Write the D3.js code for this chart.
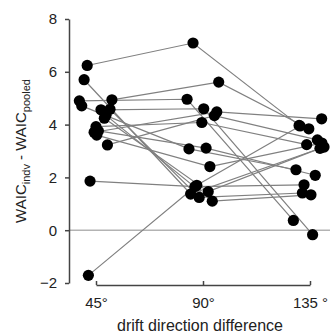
<!DOCTYPE html>
<html>
<head>
<meta charset="utf-8">
<script src="https://cdn.jsdelivr.net/npm/d3@7"></script>
<style>
  html, body { margin: 0; padding: 0; background: #fff; }
  svg { display: block; }
  text { font-family: "Liberation Sans", Arial, Helvetica, sans-serif; fill: #222; }
</style>
</head>
<body>
<svg id="chart" width="330" height="335"></svg>
<script>
// ---- data ----
const conditions = [45, 90, 135];
const tickLabels = ["45°", "90°", "135 °"];
const yTicks = [-2, 0, 2, 4, 6, 8];
// WAIC_indv - WAIC_pooled per subject at each condition
const v45  = [6.24, 5.70, 4.90, 4.94, 4.71, 4.56, 4.58, 4.24, 4.35, 3.92, 3.71, 3.76, 3.60, 3.23, 1.86, -1.71];
const v90  = [7.09, 1.37, 4.96, 5.61, 3.08, 4.60, 1.24, 1.46, 1.10, 4.08, 4.48, 3.11, 2.41, 4.34, 1.65, 1.70];
const v135 = [3.97, 3.15, 0.37, 3.84, 2.29, -0.17, 1.41, 3.10, 1.34, 3.24, 4.22, 2.08, 3.30, 3.42, 1.72, 3.95];
// horizontal jitter (degrees) per subject at each condition
const j45  = [-3.7, -5.0, -7.0, 6.7, -6.0, 2.1, 5.9, 3.5, 4.2, 0.0, -0.8, 1.0, 0.3, 4.8, -2.5, -3.2];
const j90  = [-4.2, -5.2, -6.7, 6.6, -5.9, 0.3, -1.6, 2.2, 3.9, -0.5, 5.8, 1.3, 2.9, 4.8, -3.4, -2.6];
const j135 = [-4.6, 5.9, -7.0, -0.5, -5.9, 1.1, -3.2, 4.2, 0.4, -1.4, 4.9, 2.2, 5.0, 3.1, -2.5, -4.2];

// ---- build ----
const subjects = v45.map((_, i) => [
  { c: 45,  j: j45[i],  v: v45[i] },
  { c: 90,  j: j90[i],  v: v90[i] },
  { c: 135, j: j135[i], v: v135[i] }
]);

const svg = d3.select("#chart");
const W = 330, H = 335;
const plot = { left: 70, top: 19, bottom: 283 };

const x = d3.scaleLinear().domain([45, 135]).range([96, 310]);
const y = d3.scaleLinear().domain([-2, 8]).range([plot.bottom, plot.top]);

// zero reference line
svg.append("line")
  .attr("x1", plot.left).attr("x2", W)
  .attr("y1", y(0)).attr("y2", y(0))
  .attr("stroke", "#b3b3b3").attr("stroke-width", 1.5);

// y axis
const yAxis = svg.append("g")
  .attr("transform", `translate(${plot.left - 1},0)`)
  .call(d3.axisLeft(y).tickValues(yTicks).tickSize(4).tickSizeOuter(0).tickPadding(8)
    .tickFormat(d3.format("d")));
yAxis.select(".domain").attr("stroke", "#444").attr("stroke-width", 1.5);
yAxis.selectAll(".tick line").attr("stroke", "#444").attr("stroke-width", 1.5);
yAxis.selectAll("text").style("font-size", "15px").attr("fill", "#222");

// x axis
const xAxis = svg.append("g")
  .attr("transform", `translate(0,${plot.bottom + 2})`)
  .call(d3.axisBottom(x).tickValues(conditions).tickSize(-4).tickSizeOuter(0).tickPadding(12)
    .tickFormat((d, i) => tickLabels[i]));
xAxis.select(".domain").attr("stroke", "#444").attr("stroke-width", 1.5);
xAxis.selectAll(".tick line").attr("stroke", "#444").attr("stroke-width", 1.5);
xAxis.selectAll("text").style("font-size", "15px").attr("fill", "#222");

// connecting lines
const line = d3.line().x(d => x(d.c + d.j)).y(d => y(d.v));
svg.append("g").selectAll("path")
  .data(subjects).join("path")
  .attr("d", line)
  .attr("fill", "none")
  .attr("stroke", "#808080")
  .attr("stroke-width", 1.2);

// dots
svg.append("g").selectAll("circle")
  .data(subjects.flat()).join("circle")
  .attr("cx", d => x(d.c + d.j))
  .attr("cy", d => y(d.v))
  .attr("r", 5.6)
  .attr("fill", "#000");

// x label
svg.append("text")
  .attr("x", 200).attr("y", 331)
  .attr("text-anchor", "middle")
  .style("font-size", "16px")
  .text("drift direction difference");

// y label
const yl = svg.append("text")
  .attr("transform", `translate(26,${(plot.top + plot.bottom) / 2}) rotate(-90)`)
  .attr("text-anchor", "middle")
  .style("font-size", "15px");
yl.append("tspan").text("WAIC");
yl.append("tspan").attr("dy", 4).style("font-size", "11px").text("indv");
yl.append("tspan").attr("dy", -4).text(" - WAIC");
yl.append("tspan").attr("dy", 4).style("font-size", "11px").text("pooled");
</script>
</body>
</html>
